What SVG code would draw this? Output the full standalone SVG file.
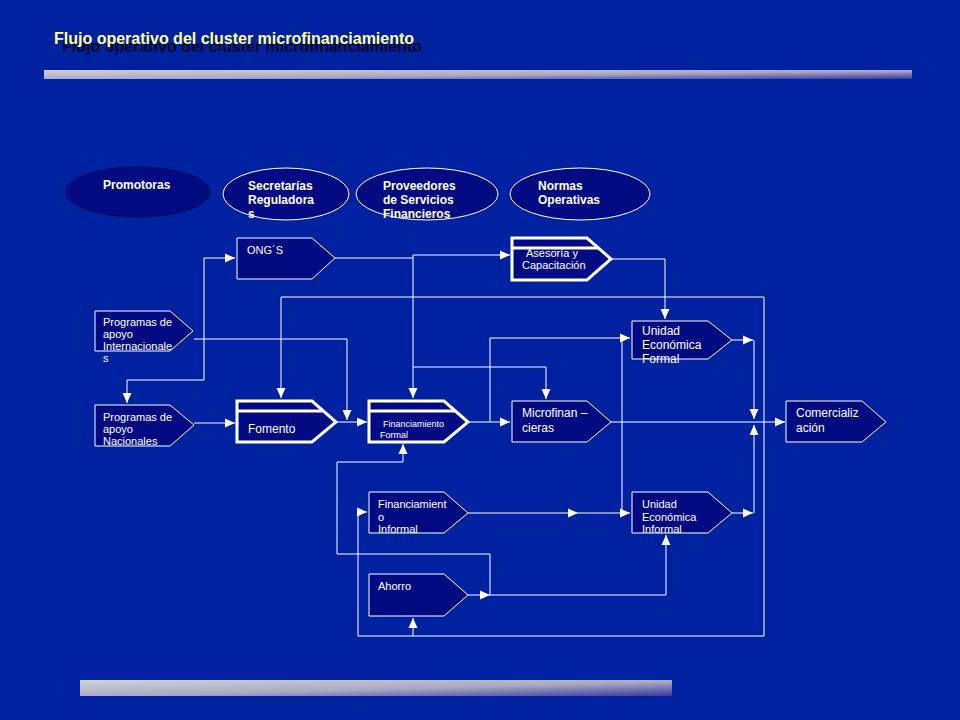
<svg xmlns="http://www.w3.org/2000/svg" width="960" height="720" viewBox="0 0 960 720">
<defs>
<linearGradient id="bar" x1="0" y1="0" x2="1" y2="1">
<stop offset="0" stop-color="#d2d2d8"/>
<stop offset="0.55" stop-color="#a8a8c4"/>
<stop offset="1" stop-color="#3a3a9c"/>
</linearGradient>
<marker id="ar" markerUnits="userSpaceOnUse" markerWidth="10" markerHeight="10" viewBox="0 0 10 10" refX="10" refY="5" orient="auto">
<path d="M0,0.5 L10,5 L0,9.5 Z" fill="#ffffff"/>
</marker>
<style>
.bg{fill:#0022a0}
.box{fill:#030b82;stroke:#ffffff;stroke-width:1}
.thick{fill:#030b82;stroke:#ffffff;stroke-width:3;stroke-linejoin:miter}
.band{stroke:#ffffff;stroke-width:3}
.ell{fill:#030b82;stroke:#ffffff;stroke-width:1}
.ellp{fill:#030b82;stroke:#000a50;stroke-width:1}
.t{font-family:"Liberation Sans",Arial,sans-serif;fill:#ffffff;font-size:11px}
.tb{font-family:"Liberation Sans",Arial,sans-serif;fill:#ffffff;font-size:12px;font-weight:bold}
.t12{font-size:12px}
.t9{font-size:9px}
.title{font-family:"Liberation Sans",Arial,sans-serif;font-size:16px;font-weight:bold}
.ln{fill:none;stroke:#ffffff;stroke-width:1}
.ln path{marker-end:url(#ar)}
.ln path.n{marker-end:none}
</style>
</defs>
<rect class="bg" x="0" y="0" width="960" height="720"/>

<g id="title">
<text class="title" x="62" y="52" fill="#00082a">Flujo operativo del cluster microfinanciamiento</text>
<text class="title" x="54" y="44" fill="#ffff99">Flujo operativo del cluster microfinanciamiento</text>
</g>
<rect id="topbar" x="44" y="70" width="868" height="9" fill="url(#bar)"/>
<rect id="bottombar" x="80" y="680" width="592" height="16" fill="url(#bar)"/>

<g id="promotoras">
<ellipse class="ellp" cx="138" cy="192" rx="72" ry="25"/>
<text class="tb" x="103" y="189">Promotoras</text>
</g>
<g id="secretarias">
<ellipse class="ell" cx="286" cy="194" rx="63" ry="26"/>
<text class="tb" x="248" y="190">Secretarías</text>
<text class="tb" x="248" y="204">Reguladora</text>
<text class="tb" x="248" y="218">s</text>
</g>
<g id="proveedores">
<ellipse class="ell" cx="427" cy="194" rx="71" ry="26"/>
<text class="tb" x="383" y="190">Proveedores</text>
<text class="tb" x="383" y="204">de Servicios</text>
<text class="tb" x="383" y="218">Financieros</text>
</g>
<g id="normas">
<ellipse class="ell" cx="580" cy="194" rx="70" ry="26"/>
<text class="tb" x="538" y="190">Normas</text>
<text class="tb" x="538" y="204">Operativas</text>
</g>

<g id="connectors" class="ln">
<path d="M204,380 V258 H235"/>
<path d="M204,380 H127 V403"/>
<path d="M335,258 H413 V398"/>
<path class="n" d="M413,255 V258"/>
<path d="M413,255 H510"/>
<path d="M413,367 H546 V399"/>
<path d="M764,297 H281 V398"/>
<path d="M764,297 V636 H358 V512 H367"/>
<path d="M413,636 V618"/>
<path d="M194,339 H347 V420"/>
<path d="M194,423 H235"/>
<path d="M336,422 H367"/>
<path d="M468,422 H510"/>
<path d="M490,422 V338 H630"/>
<path class="n" d="M622,338 V513"/>
<path d="M468,513 H578"/>
<path d="M578,513 H630"/>
<path d="M611,422 H785"/>
<path d="M732,340 H753"/>
<path d="M754,340 V419"/>
<path d="M732,513 H753"/>
<path d="M754,513 V425"/>
<path d="M611,259 H665 V319"/>
<path d="M468,595 H490"/>
<path d="M490,595 H666 V535"/>
<path d="M490,595 V554 H337 V462 H403 V444"/>
</g>

<g id="ongs">
<path class="box" d="M237,238 H312 L335,258 L312,279 H237 Z"/>
<text class="t" x="247" y="254">ONG´S</text>
</g>
<g id="asesoria">
<path class="thick" d="M512,238 H587 L611,259 L587,280 H512 Z"/>
<text class="t" x="526" y="257">Asesoría y</text>
<line class="band" x1="512" y1="248" x2="598" y2="248"/>
<text class="t" x="522" y="269">Capacitación</text>
</g>
<g id="prog-internacionales">
<path class="box" d="M95,311 H170 L193,331 L170,351 H95 Z"/>
<text class="t" x="103" y="326">Programas de</text>
<text class="t" x="103" y="338">apoyo</text>
<text class="t" x="103" y="350">Internacionale</text>
<text class="t" x="103" y="362">s</text>
</g>
<g id="prog-nacionales">
<path class="box" d="M95,405 H170 L194,425 L170,446 H95 Z"/>
<text class="t" x="103" y="421">Programas de</text>
<text class="t" x="103" y="433">apoyo</text>
<text class="t" x="103" y="445">Nacionales</text>
</g>
<g id="fomento">
<path class="thick" d="M237,401 H312 L336,422 L312,442 H237 Z"/>
<line class="band" x1="237" y1="411" x2="323" y2="411"/>
<text class="t t12" x="248" y="433">Fomento</text>
</g>
<g id="financiamiento-formal">
<path class="thick" d="M369,401 H444 L468,422 L444,442 H369 Z"/>
<line class="band" x1="369" y1="411" x2="455" y2="411"/>
<text class="t t9" x="383" y="427">Financiamiento</text>
<text class="t t9" x="380" y="438">Formal</text>
</g>
<g id="microfinancieras">
<path class="box" d="M512,401 H587 L611,422 L587,442 H512 Z"/>
<text class="t t12" x="522" y="417">Microfinan –</text>
<text class="t t12" x="522" y="432">cieras</text>
</g>
<g id="unidad-formal">
<path class="box" d="M632,321 H708 L732,340 L708,359 H632 Z"/>
<text class="t t12" x="642" y="335">Unidad</text>
<text class="t t12" x="642" y="349">Económica</text>
<text class="t t12" x="642" y="363">Formal</text>
</g>
<g id="comercializacion">
<path class="box" d="M786,401 H862 L886,422 L862,442 H786 Z"/>
<text class="t t12" x="796" y="417"> Comercializ</text>
<text class="t t12" x="796" y="432">ación</text>
</g>
<g id="financiamiento-informal">
<path class="box" d="M369,492 H444 L468,513 L444,533 H369 Z"/>
<text class="t" x="378" y="508">Financiamient</text>
<text class="t" x="378" y="521">o</text>
<text class="t" x="378" y="533">Informal</text>
</g>
<g id="unidad-informal">
<path class="box" d="M632,492 H708 L732,513 L708,533 H632 Z"/>
<text class="t" x="642" y="508">Unidad</text>
<text class="t" x="642" y="521">Económica</text>
<text class="t" x="642" y="533">Informal</text>
</g>
<g id="ahorro">
<path class="box" d="M369,574 H444 L468,595 L444,616 H369 Z"/>
<text class="t" x="378" y="590">Ahorro</text>
</g>
</svg>
